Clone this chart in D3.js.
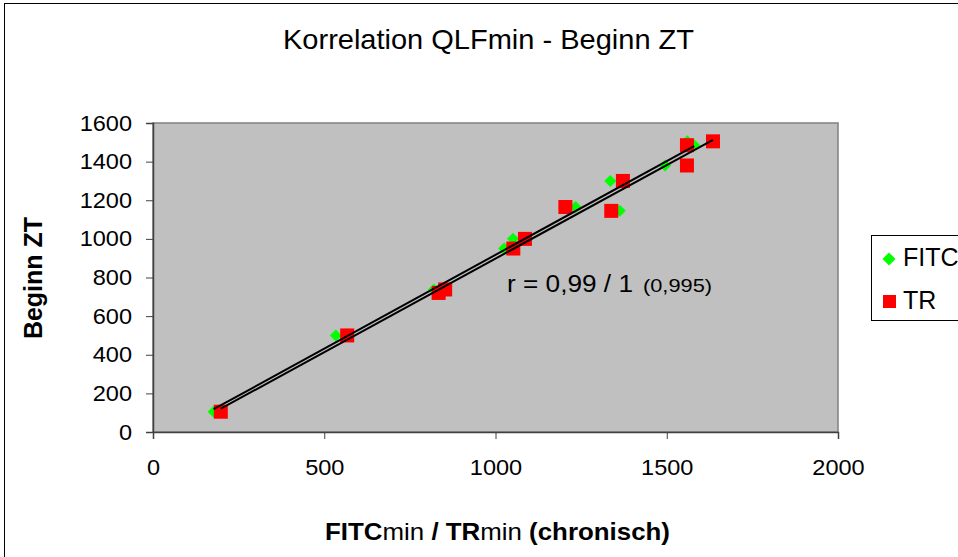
<!DOCTYPE html>
<html><head><meta charset="utf-8">
<script src="https://cdn.jsdelivr.net/npm/d3@7"></script>
<style>
body{margin:0;background:#fff;}
svg text{font-family:"Liberation Sans",Arial,sans-serif;}
</style></head>
<body>
<svg id="c" width="958" height="557"></svg>
<script>
// Beginn ZT (y) shared by both series
const beginnZT = [105, 500, 720, 738, 950, 1000, 1145, 1165, 1300, 1380, 1485, 1505];
const fitcMin  = [177, 534, 840, 820, 1025, 1051, 1363, 1234, 1335, 1495, 1580, 1560];
const trMin    = [198, 567, 834, 853, 1052, 1086, 1338, 1204, 1372, 1559, 1559, 1635];
const xTicks = [0, 500, 1000, 1500, 2000];
const yTicks = [0, 200, 400, 600, 800, 1000, 1200, 1400, 1600];
const seriesNames = ["FITC", "TR"];

const svg = d3.select("#c");

// horizontal stretch helper (reference text is rendered slightly wider than Arial)
function stretch(sel, factor, px){
  sel.each(function(){
    d3.select(this).attr("transform",
      (d3.select(this).attr("data-base")||"") + ` translate(${px},0) scale(${factor},1) translate(${-px},0)`);
  });
}

// outer chart border
svg.append("rect").attr("x",4.5).attr("y",3.5).attr("width",1000).attr("height",600)
  .attr("fill","#fff").attr("stroke","#000").attr("stroke-width",1);

const x = d3.scaleLinear().domain([0,2000]).range([153,838]);
const y = d3.scaleLinear().domain([0,1600]).range([432,123]);

// plot area
svg.append("rect").attr("x",153).attr("y",123).attr("width",685).attr("height",309)
  .attr("fill","#c0c0c0").attr("stroke","#808080").attr("stroke-width",1.5);

// axes
const gx = svg.append("g").attr("transform","translate(0,432)")
  .call(d3.axisBottom(x).tickValues(xTicks).tickSize(7).tickPadding(20).tickFormat(d3.format("d")));
const gy = svg.append("g").attr("transform","translate(153,0)")
  .call(d3.axisLeft(y).tickValues(yTicks).tickSize(7).tickPadding(14).tickFormat(d3.format("d")));
[gx,gy].forEach(g=>{
  g.select(".domain").attr("stroke","#404040").attr("stroke-width",1.5);
  g.selectAll(".tick line").attr("stroke","#404040").attr("stroke-width",1);
  g.selectAll(".tick text").attr("fill","#000").style("font-size","22px")
   .style("font-family","'Liberation Sans',Arial,sans-serif");
});
stretch(gx.selectAll(".tick text"), 1.07, 0);
stretch(gy.selectAll(".tick text"), 1.07, -21);

// points
const fitcData = beginnZT.map((v,i)=>({x:fitcMin[i], y:v}));
const trData = beginnZT.map((v,i)=>({x:trMin[i], y:v}));
svg.append("g").selectAll("path").data(fitcData).join("path")
  .attr("d",d3.symbol().type(d3.symbolSquare).size(72))
  .attr("transform",d=>`translate(${x(d.x)},${y(d.y)}) rotate(45)`)
  .attr("fill","#00ff00");
svg.append("g").selectAll("rect").data(trData).join("rect")
  .attr("x",d=>x(d.x)-7).attr("y",d=>y(d.y)-7).attr("width",14).attr("height",14)
  .attr("fill","#ff0000");

// linear trendlines computed from the data
function fit(data){
  const mx=d3.mean(data,d=>d.x), my=d3.mean(data,d=>d.y);
  const b=d3.sum(data,d=>(d.x-mx)*(d.y-my))/d3.sum(data,d=>(d.x-mx)**2);
  const a=my-b*mx; const [x0,x1]=d3.extent(data,d=>d.x);
  return [[x0,a+b*x0],[x1,a+b*x1]];
}
[fitcData,trData].forEach(dat=>{
  const l=fit(dat);
  svg.append("line").attr("x1",x(l[0][0])).attr("y1",y(l[0][1]))
    .attr("x2",x(l[1][0])).attr("y2",y(l[1][1]))
    .attr("stroke","#000").attr("stroke-width",2);
});

// annotation
svg.append("text").attr("x",507).attr("y",292).style("font-size","23px").attr("fill","#000")
  .attr("textLength",126).attr("lengthAdjust","spacingAndGlyphs").text("r = 0,99 / 1");
svg.append("text").attr("x",643).attr("y",292).style("font-size","19px").attr("fill","#000")
  .attr("textLength",69).attr("lengthAdjust","spacingAndGlyphs").text("(0,995)");

// title
svg.append("text").attr("x",283).attr("y",49)
  .style("font-size","28px").attr("textLength",411).attr("lengthAdjust","spacingAndGlyphs")
  .text("Korrelation QLFmin - Beginn ZT");

// y axis title
svg.append("text").attr("transform","translate(42,278) rotate(-90)").attr("text-anchor","middle")
  .style("font-size","25px").style("font-weight","bold").text("Beginn ZT");

// x axis title
const xt = svg.append("text").attr("x",497.5).attr("y",540).attr("text-anchor","middle").style("font-size","23px");
xt.append("tspan").style("font-weight","bold").text("FITC");
xt.append("tspan").text("min");
xt.append("tspan").style("font-weight","bold").text(" / TR");
xt.append("tspan").text("min");
xt.append("tspan").style("font-weight","bold").text(" (chronisch)");
{
  const w = xt.node().getBBox().width;
  stretch(xt, 345/w, 497.5);
}

// legend
const lg = svg.append("g");
lg.append("rect").attr("x",871.5).attr("y",235.5).attr("width",120).attr("height",85)
  .attr("fill","#fff").attr("stroke","#000").attr("stroke-width",1);
seriesNames.forEach((s,i)=>{
  const cy = 258 + i*43;
  if(i===0){
    lg.append("path").attr("d",d3.symbol().type(d3.symbolSquare).size(84))
      .attr("transform",`translate(889,${cy+1}) rotate(45)`).attr("fill","#00ff00");
  } else {
    lg.append("rect").attr("x",883).attr("y",cy-6).attr("width",13).attr("height",13).attr("fill","#ff0000");
  }
  lg.append("text").attr("x",903).attr("y",cy+8).style("font-size","25px").text(s);
});
</script>
</body></html>
